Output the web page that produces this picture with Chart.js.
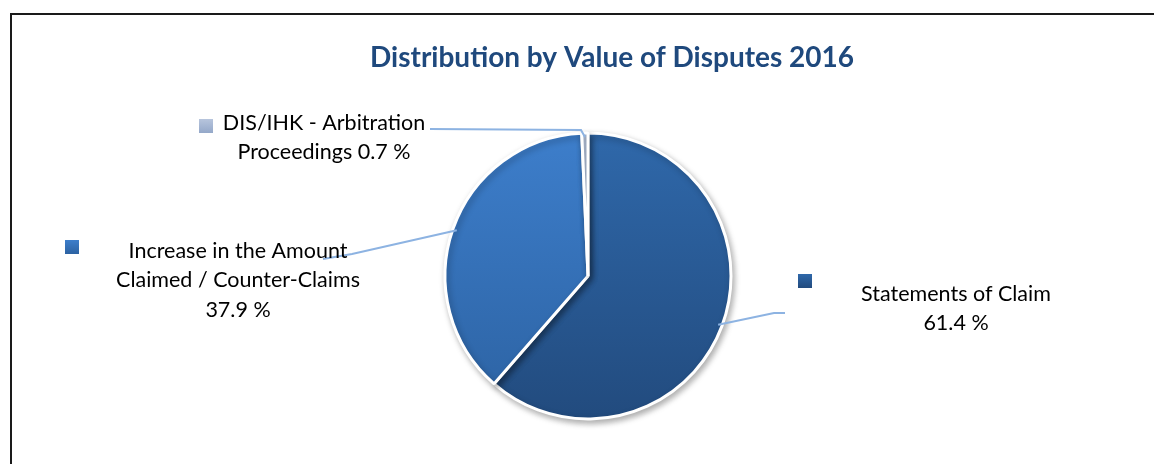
<!DOCTYPE html>
<html>
<head>
<meta charset="utf-8">
<script src="https://cdn.jsdelivr.net/npm/chart.js@4.4.1/dist/chart.umd.min.js"></script>
<style>
  html, body { margin: 0; padding: 0; background: #fff; }
  canvas { display: block; }
</style>
</head>
<body>
<canvas id="disputes" width="1154" height="464"></canvas>
<script>
const titleText = 'Distribution by Value of Disputes 2016';
const categories = ['Statements of Claim', 'Increase in the Amount Claimed / Counter-Claims', 'DIS/IHK - Arbitration Proceedings'];
const shares = [61.4, 37.9, 0.7];

// gradient stops per slice (top, bottom)
const sliceColors = [
    ['#2f68aa', '#224b7e'],
    ['#3d7ecb', '#2c62a2'],
    ['#b7c5dd', '#94a8c9']
];

// where each label sits, and the bend of its leader line
const labelLayout = [
    { x: 956, y: 294, wrap: 220, marker: [798, 274], leader: [[774, 313], [785, 313]] },
    { x: 238, y: 251, wrap: 260, marker: [65, 240], leader: [[352, 254], [323, 259]] },
    { x: 324, y: 123, wrap: 205, marker: [199, 119], leader: [[581, 130], [430, 129]] }
];

const labelFont = '21.5px Lato';
const lineHeight = 29.5;

function wrapText(ctx, text, maxWidth) {
    const words = text.split(' ');
    const lines = [];
    let line = '';
    words.forEach(w => {
        const test = line ? line + ' ' + w : w;
        if (line && ctx.measureText(test).width > maxWidth) {
            lines.push(line);
            line = w;
        } else {
            line = test;
        }
    });
    if (line) lines.push(line);
    return lines;
}

function sliceGradient(context) {
    const chart = context.chart;
    const area = chart.chartArea;
    if (!area) return sliceColors[context.dataIndex][0];
    const cy = (area.top + area.bottom) / 2;
    const g = chart.ctx.createLinearGradient(0, cy - 143, 0, cy + 143);
    g.addColorStop(0, sliceColors[context.dataIndex][0]);
    g.addColorStop(1, sliceColors[context.dataIndex][1]);
    return g;
}

const decorations = {
    id: 'decorations',
    beforeDatasetsDraw(chart) {
        const ctx = chart.ctx;
        ctx.save();
        ctx.shadowColor = 'rgba(0,0,0,0.3)';
        ctx.shadowBlur = 6;
        ctx.shadowOffsetX = 2;
        ctx.shadowOffsetY = 3;
    },
    afterDatasetsDraw(chart) {
        chart.ctx.restore();
    },
    afterDraw(chart) {
        const ctx = chart.ctx;
        ctx.save();

        // frame
        ctx.strokeStyle = '#1a1a1a';
        ctx.lineWidth = 2;
        ctx.beginPath();
        ctx.moveTo(11, 464);
        ctx.lineTo(11, 14);
        ctx.lineTo(1154, 14);
        ctx.stroke();

        // title
        ctx.fillStyle = '#1f497d';
        ctx.font = 'bold 28px Lato';
        ctx.textAlign = 'center';
        ctx.textBaseline = 'middle';
        ctx.fillText(titleText, 612, 58);

        const meta = chart.getDatasetMeta(0);
        ctx.font = labelFont;
        meta.data.forEach((arc, i) => {
            const p = arc.getProps(['x', 'y', 'startAngle', 'endAngle', 'outerRadius'], true);
            const mid = (p.startAngle + p.endAngle) / 2;
            const ax = p.x + Math.cos(mid) * (p.outerRadius - 4);
            const ay = p.y + Math.sin(mid) * (p.outerRadius - 4);
            const lay = labelLayout[i];

            // leader line
            ctx.strokeStyle = '#8db3e2';
            ctx.lineWidth = 2;
            ctx.beginPath();
            ctx.moveTo(ax, ay);
            lay.leader.forEach(pt => ctx.lineTo(pt[0], pt[1]));
            ctx.stroke();

            // marker
            const mg = ctx.createLinearGradient(0, lay.marker[1], 0, lay.marker[1] + 14);
            mg.addColorStop(0, sliceColors[i][0]);
            mg.addColorStop(1, sliceColors[i][1]);
            ctx.fillStyle = mg;
            ctx.fillRect(lay.marker[0], lay.marker[1], 14, 14);

            // text
            const text = categories[i] + ' ' + shares[i].toFixed(1) + ' %';
            const lines = wrapText(ctx, text, lay.wrap);
            ctx.fillStyle = '#000';
            ctx.textAlign = 'center';
            ctx.textBaseline = 'middle';
            lines.forEach((ln, k) => ctx.fillText(ln, lay.x, lay.y + k * lineHeight));
        });
        ctx.restore();
    }
};

const ctx = document.getElementById('disputes').getContext('2d');
const disputesChart = new Chart(ctx, {
    type: 'pie',
    data: {
        labels: categories,
        datasets: [{
            data: shares,
            backgroundColor: sliceGradient,
            borderColor: '#ffffff',
            borderWidth: 3
        }]
    },
    options: {
        responsive: false,
        animation: false,
        radius: 143,
        layout: {
            padding: { left: 388, right: 366, top: 133, bottom: 45 }
        },
        plugins: {
            legend: { display: false },
            title: { display: false },
            tooltip: { enabled: false }
        }
    },
    plugins: [decorations]
});
</script>
</body>
</html>
